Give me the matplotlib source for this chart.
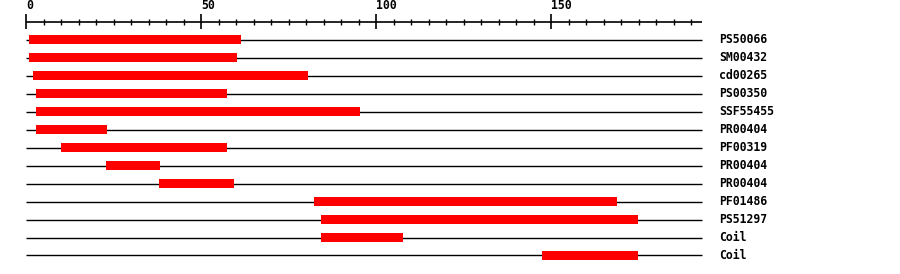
import matplotlib.pyplot as plt

# domain hits (residue positions)
names = ["PS50066", "SM00432", "cd00265", "PS00350", "SSF55455", "PR00404",
         "PF00319", "PR00404", "PR00404", "PF01486", "PS51297", "Coil", "Coil"]
starts = [0.7, 0.7, 1.9, 2.7, 2.7, 2.7, 9.9, 22.7, 37.9, 82.1, 84.1, 84.1, 147.3]
ends = [61.3, 60.1, 80.4, 57.3, 95.3, 23.0, 57.3, 38.1, 59.3, 168.7, 174.7, 107.6, 174.7]

scale_max = 193
major_ticks = [0, 50, 100, 150]
minor_ticks = list(range(0, 191, 5))

fig = plt.figure(figsize=(9, 2.74), dpi=100)
ax = fig.add_axes([0, 0, 1, 1])
ax.set_xlim(-26.5 / 3.5, (900 - 26.5) / 3.5)
ax.set_ylim((274 - 39.5) / 18, -39.5 / 18)
ax.axis('off')

font = dict(family='DejaVu Sans Mono', weight='bold', size=8.3)

# ruler on top
ax.hlines(-1, -0.14, scale_max, color='black', lw=1.2)
for t in minor_ticks:
    if t in major_ticks:
        ax.vlines(t, -1.42, -0.58, color='black', lw=1.2)
    else:
        ax.vlines(t, -1.14, -0.81, color='black', lw=1.0)
for t in major_ticks:
    ax.text(t - 0.2, -1.55, str(t), ha='left', va='bottom', **font)

# one row per hit
for i, (n, s, e) in enumerate(zip(names, starts, ends)):
    ax.hlines(i, -0.14, scale_max, color='black', lw=1.0, zorder=1)
    ax.barh(i, e - s, left=s, height=0.5, color='#ff0000', linewidth=0, zorder=3)
    ax.text(197.9, i, n, ha='left', va='center', **font)

fig.savefig('out.png', dpi=100)
